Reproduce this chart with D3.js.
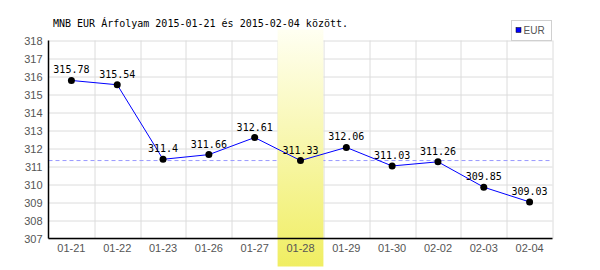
<!DOCTYPE html>
<html>
<head>
<meta charset="utf-8">
<script src="https://cdn.jsdelivr.net/npm/d3@7"></script>
<style>
body { margin: 0; background: #fff; }
</style>
</head>
<body>
<svg id="chart"></svg>
<script>
// data
var dates = ["01-21", "01-22", "01-23", "01-26", "01-27", "01-28", "01-29", "01-30", "02-02", "02-03", "02-04"];
var rates = [315.78, 315.54, 311.4, 311.66, 312.61, 311.33, 312.06, 311.03, 311.26, 309.85, 309.03];
var yTicks = [307, 308, 309, 310, 311, 312, 313, 314, 315, 316, 317, 318];
var highlightDate = "01-28";
var refRate = 311.33;
var title = "MNB EUR Árfolyam 2015-01-21 és 2015-02-04 között.";
var seriesName = "EUR";

var width = 600, height = 270;
var margin = { top: 40.5, right: 47.5, bottom: 31.5, left: 48.5 };
var w = width - margin.left - margin.right;
var h = height - margin.top - margin.bottom;

var svg = d3.select("#chart")
    .attr("width", width)
    .attr("height", height);

var defs = svg.append("defs");
var grad = defs.append("linearGradient")
    .attr("id", "band")
    .attr("x1", 0).attr("y1", 0).attr("x2", 0).attr("y2", 1);
grad.append("stop").attr("offset", "0%").attr("stop-color", "#fffff2");
grad.append("stop").attr("offset", "100%").attr("stop-color", "#f0ee62");

var g = svg.append("g")
    .attr("transform", "translate(" + margin.left + "," + margin.top + ")");

var xScale = d3.scaleBand()
    .domain(dates)
    .range([0, w]);

var yScale = d3.scaleLinear()
    .domain([307, 318])
    .range([h, 0]);

// grid
g.append("g")
    .selectAll("line")
    .data(yTicks)
    .join("line")
    .attr("x1", 0).attr("x2", w)
    .attr("y1", function(d) { return Math.round(yScale(d)) + 0.5; })
    .attr("y2", function(d) { return Math.round(yScale(d)) + 0.5; })
    .attr("stroke", "#dcdcdc");

g.append("g")
    .selectAll("line")
    .data(dates.slice(1).concat(["end"]))
    .join("line")
    .attr("x1", function(d, i) { return Math.round(xScale.step() * (i + 1)) + 0.5; })
    .attr("x2", function(d, i) { return Math.round(xScale.step() * (i + 1)) + 0.5; })
    .attr("y1", 0).attr("y2", h)
    .attr("stroke", "#dcdcdc");

// reference dashed line
g.append("line")
    .attr("x1", 0).attr("x2", w)
    .attr("y1", yScale(refRate)).attr("y2", yScale(refRate))
    .attr("stroke", "#9999ff")
    .attr("stroke-dasharray", "4,3");

// highlight band
g.append("rect")
    .attr("x", xScale(highlightDate))
    .attr("width", xScale.bandwidth())
    .attr("y", -11)
    .attr("height", h + 39)
    .attr("fill", "url(#band)");

// axes
var xAxis = g.append("g")
    .attr("transform", "translate(0," + h + ")")
    .call(d3.axisBottom(xScale).tickSize(0).tickPadding(6));
xAxis.select(".domain").attr("stroke", "#000").attr("stroke-width", 1.5).attr("d", "M0,0H" + w);
xAxis.selectAll("text")
    .attr("fill", "#555")
    .style("font-family", "Liberation Sans, Arial, sans-serif")
    .style("font-size", "11px");

var yAxis = g.append("g")
    .call(d3.axisLeft(yScale).tickValues(yTicks).tickFormat(d3.format("d")).tickSize(0).tickPadding(6));
yAxis.select(".domain").attr("stroke", "#000").attr("stroke-width", 1.5).attr("d", "M0,0V" + h);
yAxis.selectAll("text")
    .attr("fill", "#555")
    .style("font-family", "Liberation Sans, Arial, sans-serif")
    .style("font-size", "11px");

// line + points
var cx = function(d, i) { return xScale(dates[i]) + xScale.bandwidth() / 2; };
var line = d3.line()
    .x(cx)
    .y(function(d) { return yScale(d); });

g.append("path")
    .datum(rates)
    .attr("d", line)
    .attr("fill", "none")
    .attr("stroke", "#0000ff")
    .attr("stroke-width", 1);

g.append("g")
    .selectAll("circle")
    .data(rates)
    .join("circle")
    .attr("cx", cx)
    .attr("cy", function(d) { return yScale(d); })
    .attr("r", 3.5)
    .attr("fill", "#000");

g.append("g")
    .selectAll("text")
    .data(rates)
    .join("text")
    .attr("x", cx)
    .attr("y", function(d) { return yScale(d) - 7; })
    .attr("text-anchor", "middle")
    .style("font-family", "DejaVu Sans Mono, monospace")
    .style("font-size", "10px")
    .attr("fill", "#000")
    .text(function(d) { return d; });

// title
svg.append("text")
    .attr("x", 53)
    .attr("y", 27)
    .style("font-family", "DejaVu Sans Mono, monospace")
    .style("font-size", "10px")
    .attr("fill", "#000")
    .text(title);

// legend
var lg = svg.append("g").attr("transform", "translate(511.5,20.5)");
lg.append("rect")
    .attr("width", 40).attr("height", 20)
    .attr("fill", "#fff")
    .attr("stroke", "#d0d0d0");
lg.append("rect")
    .attr("x", 4.5).attr("y", 7)
    .attr("width", 5).attr("height", 5)
    .attr("fill", "#0000ff")
    .attr("stroke", "#000")
    .attr("stroke-width", 0.5);
lg.append("text")
    .attr("x", 12).attr("y", 13.5)
    .style("font-family", "Liberation Sans, Arial, sans-serif")
    .style("font-size", "10px")
    .attr("fill", "#555")
    .text(seriesName);
</script>
</body>
</html>
